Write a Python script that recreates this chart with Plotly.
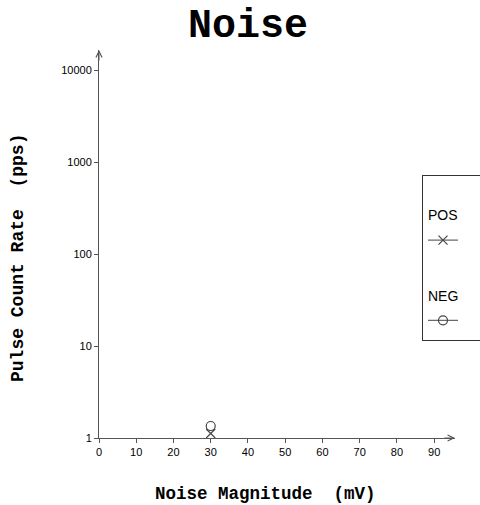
import plotly.graph_objects as go

# Noise magnitude (mV) vs. pulse count rate (pps)
pos_x = [30]
pos_y = [1.12]
neg_x = [30]
neg_y = [1.35]

x_ticks = [0, 10, 20, 30, 40, 50, 60, 70, 80, 90]
y_ticks = [1, 10, 100, 1000, 10000]
y_tick_text = ["1", "10", "100", "1000", "10000"]

mono = "Liberation Mono, Courier New, monospace"
sans = "Liberation Sans, Arial, sans-serif"
axis_col = "#555555"
mark_col = "#444444"

# blank legend entry text keeps the boxed key wide
key_pad = "\u00a0" * 16

fig = go.Figure()

fig.add_trace(go.Scatter(
    x=pos_x, y=pos_y, mode="lines+markers", name=key_pad,
    legendgroup="pos", legendgrouptitle=dict(text="POS"),
    line=dict(color=mark_col, width=1),
    marker=dict(symbol="x-thin-open", size=9, line=dict(color=mark_col, width=1.2)),
))
fig.add_trace(go.Scatter(
    x=neg_x, y=neg_y, mode="lines+markers", name=key_pad,
    legendgroup="neg", legendgrouptitle=dict(text="NEG"),
    line=dict(color=mark_col, width=1),
    marker=dict(symbol="circle-open", size=9, line=dict(color=mark_col, width=1.2)),
))

x_max = 95.6
y_max_log = 4.22

fig.update_layout(
    width=480, height=505,
    margin=dict(l=99, r=25, t=50, b=67, autoexpand=False),
    paper_bgcolor="white", plot_bgcolor="white",
    showlegend=True,
    legend=dict(
        x=(422 - 99) / 356, xanchor="left",
        y=1 - (175 - 50) / 388, yanchor="top",
        bgcolor="white", bordercolor="#333333", borderwidth=1,
        title=dict(text=" ", font=dict(family=sans, size=18)),
        font=dict(family=sans, size=20, color="black"),
        grouptitlefont=dict(family=sans, size=14, color="black"),
        tracegroupgap=30,
    ),
    xaxis=dict(
        range=[0, x_max], tickvals=x_ticks, showgrid=False, zeroline=False,
        showline=True, linecolor=axis_col, linewidth=1,
        ticks="outside", ticklen=4, tickcolor=axis_col,
        tickfont=dict(family=sans, size=11, color="black"),
    ),
    yaxis=dict(
        type="log", range=[0, y_max_log], tickvals=y_ticks, ticktext=y_tick_text,
        showgrid=False, zeroline=False,
        showline=True, linecolor=axis_col, linewidth=1,
        ticks="outside", ticklen=4, tickcolor=axis_col,
        tickfont=dict(family=sans, size=11, color="black"),
    ),
    annotations=[
        dict(text="<b>Noise</b>", xref="paper", yref="paper",
             x=(248 - 99) / 356, y=1 + (50 - 27) / 388, showarrow=False,
             xanchor="center", yanchor="middle",
             font=dict(family=mono, size=40, color="black")),
        dict(text="<b>Noise Magnitude  (mV)</b>", xref="paper", yref="paper",
             x=(265 - 99) / 356, y=-(494 - 438) / 388, showarrow=False,
             xanchor="center", yanchor="middle",
             font=dict(family=mono, size=17.5, color="black")),
        dict(text="<b>Pulse Count Rate  (pps)</b>", xref="paper", yref="paper",
             x=-(99 - 18) / 356, y=1 - (258 - 50) / 388, showarrow=False,
             xanchor="center", yanchor="middle", textangle=-90,
             font=dict(family=mono, size=18, color="black")),
        # arrowheads at the axis ends
        dict(x=x_max, y=0, xref="x", yref="y", ax=-12, ay=0, axref="pixel",
             text="", showarrow=True, arrowhead=5, arrowsize=1.2,
             arrowwidth=1, arrowcolor=axis_col),
        dict(x=0, y=y_max_log, xref="x", yref="y", ax=0, ay=12,
             text="", showarrow=True, arrowhead=5, arrowsize=1.2,
             arrowwidth=1, arrowcolor=axis_col),
    ],
)

fig.write_html("out.html")
